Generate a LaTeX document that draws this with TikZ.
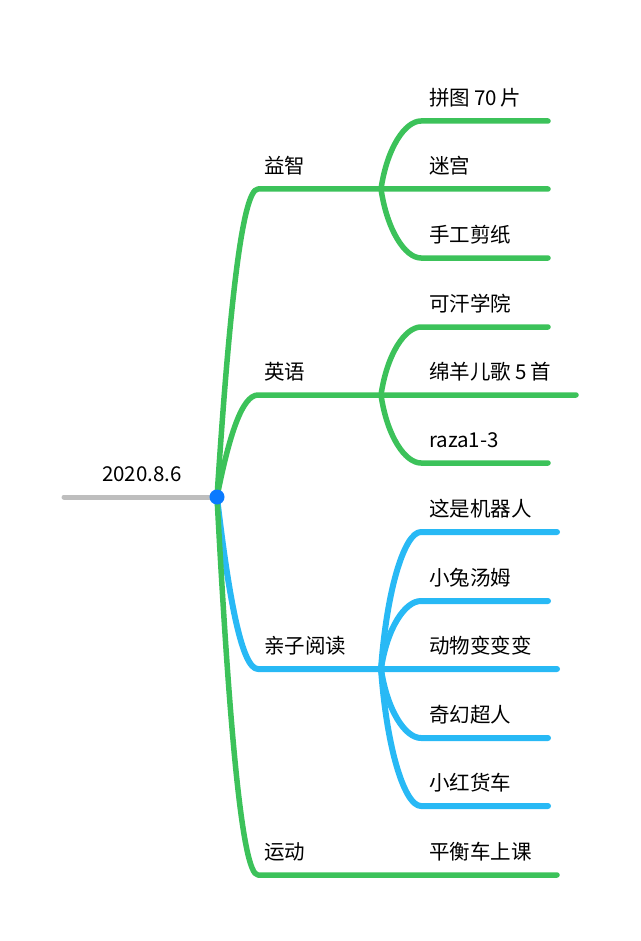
\documentclass[tikz,border=0pt]{standalone}
\usepackage{fontspec}
\newfontfamily\cjk{Noto Sans CJK SC}
\definecolor{brgreen}{RGB}{60,194,90}
\definecolor{brblue}{RGB}{40,185,245}
\definecolor{dotblue}{RGB}{10,122,255}
\definecolor{rootgray}{RGB}{190,190,190}
\tikzset{
  lbl/.style={anchor=base west, inner sep=0pt, font=\cjk\fontsize{20.5}{24}\selectfont},
  rootlbl/.style={anchor=base, inner sep=0pt, font=\cjk\fontsize{20.5}{24}\selectfont},
  gbr/.style={draw=brgreen, line width=5.5pt, line cap=round, line join=round},
  bbr/.style={draw=brblue, line width=6pt, line cap=round, line join=round},
  grayline/.style={draw=rootgray, line width=5pt, line cap=round}
}
\begin{document}
\begin{tikzpicture}[x=1pt,y=-1pt]
\useasboundingbox (0,0) rectangle (640,941);
% coordinates
\coordinate (g0) at (64,497);
\coordinate (root) at (217,497);
\coordinate (c1) at (258,189);
\coordinate (c2) at (258,395);
\coordinate (c3) at (258,669);
\coordinate (c4) at (258,875);
\coordinate (b1) at (381,189);
\coordinate (b2) at (381,395);
\coordinate (b3) at (381,669);
\coordinate (l11) at (421,121); \coordinate (e11) at (548,121);
\coordinate (e12) at (548,189);
\coordinate (l13) at (421,258); \coordinate (e13) at (548,258);
\coordinate (l21) at (421,327); \coordinate (e21) at (548,327);
\coordinate (e22) at (576,395);
\coordinate (l23) at (421,463); \coordinate (e23) at (548,463);
\coordinate (l31) at (421,532); \coordinate (e31) at (557,532);
\coordinate (l32) at (421,601); \coordinate (e32) at (548,601);
\coordinate (e33) at (557,669);
\coordinate (l34) at (421,738); \coordinate (e34) at (548,738);
\coordinate (l35) at (421,806); \coordinate (e35) at (548,806);
\coordinate (e4) at (557,875);

% root line
\draw[grayline] (g0) -- (root);
\node[rootlbl] (rootl) at (142,481.5) {2020.8.6};

% blue branch
\draw[bbr] (root) .. controls +(12,103) and +(-16,0) .. (c3) -- (b3) -- (e33);
\draw[bbr] (b3) .. controls +(6,-82) and +(-16,0) .. (l31) -- (e31);
\draw[bbr] (b3) .. controls +(6,-41) and +(-16,0) .. (l32) -- (e32);
\draw[bbr] (b3) .. controls +(6,41) and +(-16,0) .. (l34) -- (e34);
\draw[bbr] (b3) .. controls +(6,82) and +(-16,0) .. (l35) -- (e35);

% green branches
\draw[gbr] (root) .. controls +(12,-185) and +(-16,0) .. (c1) -- (b1) -- (e12);
\draw[gbr] (b1) .. controls +(6,-41) and +(-16,0) .. (l11) -- (e11);
\draw[gbr] (b1) .. controls +(6,41) and +(-16,0) .. (l13) -- (e13);

\draw[gbr] (root) .. controls +(12,-61) and +(-16,0) .. (c2) -- (b2) -- (e22);
\draw[gbr] (b2) .. controls +(6,-41) and +(-16,0) .. (l21) -- (e21);
\draw[gbr] (b2) .. controls +(6,41) and +(-16,0) .. (l23) -- (e23);

\draw[gbr] (root) .. controls +(12,227) and +(-16,0) .. (c4) -- (e4);

% root dot
\fill[dotblue] (root) circle (7.5);

% level 1 labels
\node[lbl] (n1) at (264,173.5) {益智};
\node[lbl] (n2) at (264,379.5) {英语};
\node[lbl] (n3) at (264,653.5) {亲子阅读};
\node[lbl] (n4) at (264,859.5) {运动};

% level 2 labels
\node[lbl] (n11) at (429,105.5) {拼图\hspace{4pt}70\hspace{4pt}片};
\node[lbl] (n12) at (429,173.5) {迷宫};
\node[lbl] (n13) at (429,242.5) {手工剪纸};
\node[lbl] (n21) at (429,311.5) {可汗学院};
\node[lbl] (n22) at (429,379.5) {绵羊儿歌\hspace{4pt}5\hspace{4pt}首};
\node[lbl] (n23) at (429,447.5) {raza1-3};
\node[lbl] (n31) at (429,516.5) {这是机器人};
\node[lbl] (n32) at (429,585.5) {小兔汤姆};
\node[lbl] (n33) at (429,653.5) {动物变变变};
\node[lbl] (n34) at (429,722.5) {奇幻超人};
\node[lbl] (n35) at (429,790.5) {小红货车};
\node[lbl] (n41) at (429,859.5) {平衡车上课};
\end{tikzpicture}
\end{document}
